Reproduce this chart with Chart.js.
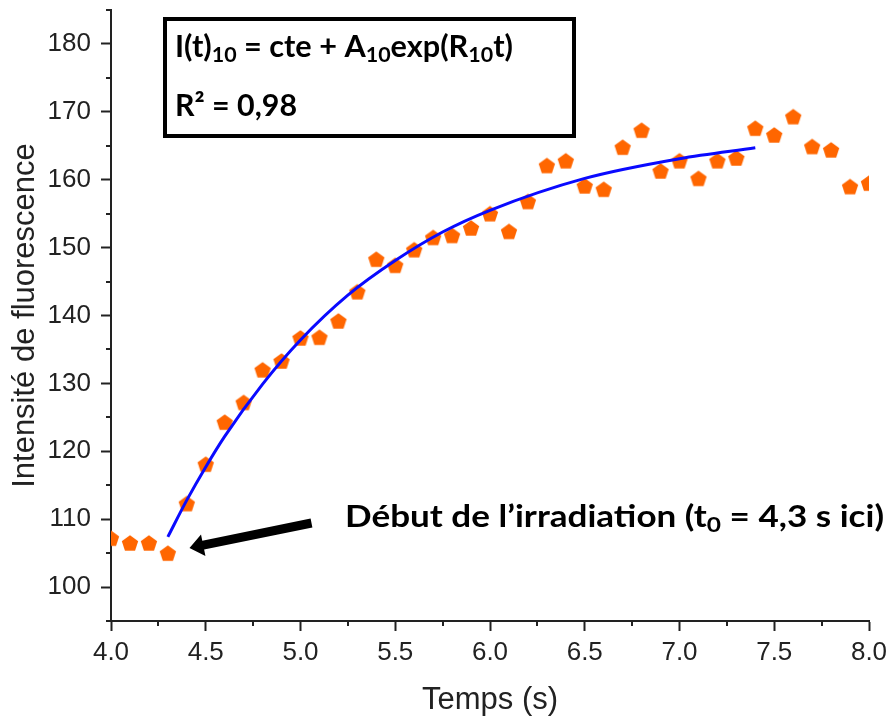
<!DOCTYPE html>
<html>
<head>
<meta charset="utf-8">
<script src="https://cdn.jsdelivr.net/npm/chart.js@4.4.1/dist/chart.umd.min.js"></script>
<style>
  html, body { margin: 0; padding: 0; background: #fff; }
</style>
</head>
<body>
<canvas id="fluo" width="891" height="719"></canvas>
<script>
// measured points (time in s, fluorescence intensity)
const times = [4.0, 4.1, 4.2, 4.3, 4.4, 4.5, 4.6, 4.7, 4.8, 4.9,
               5.0, 5.1, 5.2, 5.3, 5.4, 5.5, 5.6, 5.7, 5.8, 5.9,
               6.0, 6.1, 6.2, 6.3, 6.4, 6.5, 6.6, 6.7, 6.8, 6.9,
               7.0, 7.1, 7.2, 7.3, 7.4, 7.5, 7.6, 7.7, 7.8, 7.9, 8.0];
const intensity = [107.2, 106.5, 106.5, 105.0, 112.3, 118.1, 124.3, 127.2, 132.0, 133.3,
                   136.7, 136.8, 139.2, 143.5, 148.3, 147.4, 149.7, 151.5, 151.8, 152.9,
                   155.0, 152.4, 156.8, 162.1, 162.8, 159.1, 158.6, 164.8, 167.3, 161.3,
                   162.8, 160.2, 162.8, 163.2, 167.6, 166.6, 169.3, 164.9, 164.4, 159.0, 159.5];

// fitted curve
const fitTimes = [4.3, 4.4, 4.5, 4.6, 4.8, 5.0, 5.25, 5.5, 5.75, 6.0, 6.5, 7.0, 7.4];
const fitValues = [107.4, 112.8, 117.7, 122.2, 129.9, 136.4, 143.0, 148.1, 152.3, 155.5, 160.2, 163.1, 164.7];

const xMajorTicks = [4.0, 4.5, 5.0, 5.5, 6.0, 6.5, 7.0, 7.5, 8.0];
const xMinorTicks = [4.25, 4.75, 5.25, 5.75, 6.25, 6.75, 7.25, 7.75];
const yMajorTicks = [100, 110, 120, 130, 140, 150, 160, 170, 180];
const yMinorTicks = [95, 105, 115, 125, 135, 145, 155, 165, 175, 185];

const axisColor = '#222';

function pentagon(r, color) {
  const size = 20;
  const c = document.createElement('canvas');
  c.width = size; c.height = size;
  const g = c.getContext('2d');
  g.fillStyle = color;
  g.beginPath();
  for (let i = 0; i < 5; i++) {
    const a = -Math.PI / 2 + i * 2 * Math.PI / 5;
    const px = size / 2 + r * Math.cos(a);
    const py = size / 2 + r * Math.sin(a) + r * 0.1;
    if (i === 0) g.moveTo(px, py); else g.lineTo(px, py);
  }
  g.closePath();
  g.fill();
  return c;
}

// draw a row of bold text pieces, squeezed to a given width
function drawRich(ctx, parts, x, y, width, size) {
  const fam = 'Lato, "Open Sans", sans-serif';
  const fontFor = p => p[1] ? `bold ${size * 0.7}px ${fam}` : `bold ${size}px ${fam}`;
  let natural = 0;
  parts.forEach(p => { ctx.font = fontFor(p); natural += ctx.measureText(p[0]).width; });
  ctx.save();
  ctx.translate(x, y);
  ctx.scale(width / natural, 1);
  ctx.fillStyle = '#000';
  ctx.textBaseline = 'alphabetic';
  ctx.textAlign = 'left';
  let cx = 0;
  parts.forEach(p => {
    ctx.font = fontFor(p);
    let dy = 0;
    if (p[1] === 'sub') dy = size * 0.17;
    if (p[1] === 'sup') dy = -size * 0.35;
    ctx.fillText(p[0], cx, dy);
    cx += ctx.measureText(p[0]).width;
  });
  ctx.restore();
}

function drawArrow(ctx, x1, y1, x2, y2, shaft, headLen, headW) {
  const dx = x2 - x1, dy = y2 - y1, len = Math.hypot(dx, dy);
  const ux = dx / len, uy = dy / len, nx = -uy, ny = ux;
  const bx = x2 - ux * headLen, by = y2 - uy * headLen;
  ctx.beginPath();
  ctx.moveTo(x1 + nx * shaft / 2, y1 + ny * shaft / 2);
  ctx.lineTo(bx + nx * shaft / 2, by + ny * shaft / 2);
  ctx.lineTo(bx + nx * headW / 2, by + ny * headW / 2);
  ctx.lineTo(x2, y2);
  ctx.lineTo(bx - nx * headW / 2, by - ny * headW / 2);
  ctx.lineTo(bx - nx * shaft / 2, by - ny * shaft / 2);
  ctx.lineTo(x1 - nx * shaft / 2, y1 - ny * shaft / 2);
  ctx.closePath();
  ctx.fillStyle = '#000';
  ctx.fill();
}

const extras = {
  id: 'extras',
  afterDraw(chart) {
    const ctx = chart.ctx;
    const xs = chart.scales.x, ys = chart.scales.y;
    const area = chart.chartArea;
    ctx.save();
    // minor ticks
    ctx.strokeStyle = axisColor;
    ctx.lineWidth = 2;
    ctx.beginPath();
    xMinorTicks.forEach(v => {
      const px = Math.round(xs.getPixelForValue(v));
      ctx.moveTo(px, area.bottom);
      ctx.lineTo(px, area.bottom + 5);
    });
    yMinorTicks.forEach(v => {
      const py = Math.round(ys.getPixelForValue(v));
      ctx.moveTo(area.left, py);
      ctx.lineTo(area.left - 5, py);
    });
    ctx.stroke();

    // equation box
    ctx.fillStyle = '#fff';
    ctx.fillRect(165, 19, 409, 117);
    ctx.strokeStyle = '#000';
    ctx.lineWidth = 4;
    ctx.strokeRect(165, 19, 409, 117);
    drawRich(ctx, [['I(t)'], ['10', 'sub'], [' = cte + A'], ['10', 'sub'], ['exp(R'], ['10', 'sub'], ['t)']],
      175, 57, 338, 30);
    drawRich(ctx, [['R² = 0,98']], 175, 116, 122, 30);

    // irradiation start annotation
    drawArrow(ctx, 311.5, 523, 189.5, 548, 9, 14, 22);
    drawRich(ctx, [['Début de l’irradiation (t'], ['0', 'sub'], [' = 4,3 s ici)']],
      345, 527, 539, 30);
    ctx.restore();
  }
};

Chart.defaults.color = axisColor;
Chart.defaults.font.family = '"Liberation Sans", Arial, sans-serif';

const fluoChart = new Chart(document.getElementById('fluo'), {
  type: 'scatter',
  data: {
    datasets: [
      {
        label: 'Ajustement',
        data: fitTimes.map((t, i) => ({ x: t, y: fitValues[i] })),
        showLine: true,
        borderColor: '#0a0aff',
        borderWidth: 3,
        pointRadius: 0,
        cubicInterpolationMode: 'monotone',
        order: 0
      },
      {
        label: 'Intensité',
        data: times.map((t, i) => ({ x: t, y: intensity[i] })),
        pointStyle: pentagon(8.6, '#ff6600'),
        pointRadius: 9,
        clip: 0,
        order: 1
      }
    ]
  },
  options: {
    responsive: false,
    animation: false,
    events: [],
    layout: { padding: { left: 0, right: 22, top: 10, bottom: 0 } },
    plugins: { legend: { display: false }, tooltip: { enabled: false } },
    scales: {
      x: {
        type: 'linear',
        min: 4, max: 8,
        afterBuildTicks: s => { s.ticks = xMajorTicks.map(v => ({ value: v })); },
        afterFit: s => { s.height = 98; s.paddingLeft = 0; s.paddingRight = 0; },
        ticks: {
          font: { size: 26 },
          padding: 6,
          maxRotation: 0,
          callback: v => v.toFixed(1)
        },
        grid: { display: true, drawOnChartArea: false, tickLength: 10, tickWidth: 2, tickColor: axisColor },
        border: { display: true, color: axisColor, width: 2 },
        title: { display: true, text: 'Temps (s)', font: { size: 31 }, padding: { top: 0, bottom: 0 } }
      },
      y: {
        type: 'linear',
        min: 95, max: 185,
        afterBuildTicks: s => { s.ticks = yMajorTicks.map(v => ({ value: v })); },
        afterFit: s => { s.width = 111; s.paddingTop = 0; s.paddingBottom = 0; },
        ticks: { font: { size: 26 }, padding: 10 },
        grid: { display: true, drawOnChartArea: false, tickLength: 10, tickWidth: 2, tickColor: axisColor },
        border: { display: true, color: axisColor, width: 2 },
        title: { display: true, text: 'Intensité de fluorescence', font: { size: 31 }, padding: { top: 7, bottom: 0 } }
      }
    }
  },
  plugins: [extras]
});
</script>
</body>
</html>
